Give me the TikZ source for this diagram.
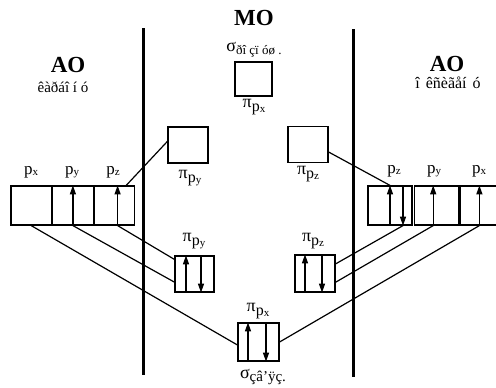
\documentclass[tikz,border=0pt]{standalone}
\usepackage{fontspec}
\setmainfont{Liberation Serif}
\usepackage{tikz}
\usetikzlibrary{arrows.meta,positioning}

\newcommand{\porb}[1]{p\raisebox{-1pt}{\fontsize{11}{11}\selectfont #1}}
\newcommand{\piorb}[1]{{\fontsize{18}{18}\selectfont π}\raisebox{-4pt}{\fontsize{16}{16}\selectfont\porb{#1}}}

\begin{document}
\begin{tikzpicture}[
				x=1pt, y=-1pt,
				orb/.style={draw, line width=1.2pt, minimum width=40.5pt,
					minimum height=39pt, inner sep=0pt},
				mo/.style={draw, line width=1.2pt, minimum width=40pt,
					minimum height=36pt, inner sep=0pt},
				lbl/.style={font=\fontsize{16}{17}\selectfont, inner sep=0pt},
				head/.style={font=\fontsize{23}{25}\selectfont\bfseries, inner sep=0pt},
				spin/.style={-{Triangle[length=9pt,width=6pt]}, line width=1.3pt},
				link/.style={line width=1.2pt},
				wall/.style={line width=3pt}
				]
				\fill[white] (0,0) rectangle (496,388);
				\useasboundingbox (0,0) rectangle (496,388);
				% headings
				\node[head] (mo) at (254,18) {MO};
				\node[head] (aoL) at (68,65) {AO};
				\node[lbl, font=\fontsize{15}{16}\selectfont] (aoLsub) at (63,87) {êàðáî í ó};
				\node[head] (aoR) at (447,64) {AO};
				\node[lbl] (aoRsub) at (448,83) {î\hspace{6pt}êñèãåí\hspace{6pt}ó};
				% dividers
				\draw[wall] (143,28) -- (143,375);
				\draw[wall] (353,29) -- (353,377);
				% AO boxes, left
				\node[orb] (pxL) at (31.2,205.5) {};
				\node[orb, right=0pt of pxL] (pyL) {};
				\node[orb, right=0pt of pyL] (pzL) {};
				\node[lbl, font=\fontsize{17}{18}\selectfont] at (31,172) {\porb{x}};
				\node[lbl, font=\fontsize{17}{18}\selectfont] at (72,172) {\porb{y}};
				\node[lbl, font=\fontsize{17}{18}\selectfont] at (113,172) {\porb{z}};
				% AO boxes, right
				\node[orb, minimum width=44pt] (pzR) at (390,205.5) {};
				\node[orb, minimum width=44pt, right=1.5pt of pzR] (pyR) {};
				\node[orb, minimum width=44pt, right=0pt of pyR] (pxR) {};
				\node[lbl, font=\fontsize{17}{18}\selectfont] at (394,171) {\porb{z}};
				\node[lbl, font=\fontsize{17}{18}\selectfont] at (434,171) {\porb{y}};
				\node[lbl, font=\fontsize{17}{18}\selectfont] at (479,171) {\porb{x}};
				% MO boxes
				\node[mo, minimum width=37pt, minimum height=34pt] (sigA) at (253.5,79) {};
				\node[lbl] (sigAlbl) at (254,50) {{\fontsize{18}{18}\selectfont σ}\raisebox{-3pt}{\fontsize{13}{13}\selectfont ðî çï óø .}};
				\node[lbl] at (254,107) {\piorb{x}};
				\node[mo] (pyA) at (188,145) {};
				\node[lbl] at (190,178) {\piorb{y}};
				\node[mo] (pzA) at (308,144.5) {};
				\node[lbl] at (308,174) {\piorb{z}};
				\node[mo, minimum width=39pt] (pyB) at (194.5,274) {};
				\node[lbl] at (194,241) {\piorb{y}};
				\node[mo, minimum height=37pt] (pzB) at (315,273.5) {};
				\node[lbl] at (313,241) {\piorb{z}};
				\node[mo, minimum width=41pt, minimum height=38pt] (sig) at (258.5,342) {};
				\node[lbl] at (258,311) {\piorb{x}};
				\node[lbl] (sigBlbl) at (263,377) {{\fontsize{18}{18}\selectfont σ}\raisebox{-3pt}{\fontsize{15}{15}\selectfont çâ\char"0027 ÿç.}};
				% electrons
				\draw[spin] (pyL.south) -- (pyL.north);
				\draw[spin] ([xshift=3pt]pzL.south) -- ([xshift=3pt]pzL.north);
				\draw[spin] (pzR.south) -- (pzR.north);
				\draw[spin] ([xshift=13pt]pzR.north) -- ([xshift=13pt]pzR.south);
				\draw[spin] ([xshift=-3.5pt]pyR.south) -- ([xshift=-3.5pt]pyR.north);
				\draw[spin] ([xshift=-2.5pt]pxR.south) -- ([xshift=-2.5pt]pxR.north);
				\draw[spin] ([xshift=-8.5pt]pyB.south) -- ([xshift=-8.5pt]pyB.north);
				\draw[spin] ([xshift=6.5pt]pyB.north) -- ([xshift=6.5pt]pyB.south);
				\draw[spin] ([xshift=-10pt]pzB.south) -- ([xshift=-10pt]pzB.north);
				\draw[spin] ([xshift=7pt]pzB.north) -- ([xshift=7pt]pzB.south);
				\draw[spin] ([xshift=-10.5pt]sig.south) -- ([xshift=-10.5pt]sig.north);
				\draw[spin] ([xshift=7.5pt]sig.north) -- ([xshift=7.5pt]sig.south);
				% correlation lines
				\draw[link] (pzL.60) -- (pyA.170);
				\draw[link] (pzA.-20) -- (pzR.north);
				\draw[link] (pxL.south) -- (sig.188);
				\draw[link] (pyL.south) -- (pyB.202);
				\draw[link] ([xshift=3pt]pzL.south) -- (pyB.144);
				\draw[link] ([xshift=13pt]pzR.south) -- (pzB.25);
				\draw[link] ([xshift=-3.5pt]pyR.south) -- (pzB.-23);
				\draw[link] ([xshift=-2.5pt]pxR.south) -- (sig.east);
			\end{tikzpicture}
\end{document}
